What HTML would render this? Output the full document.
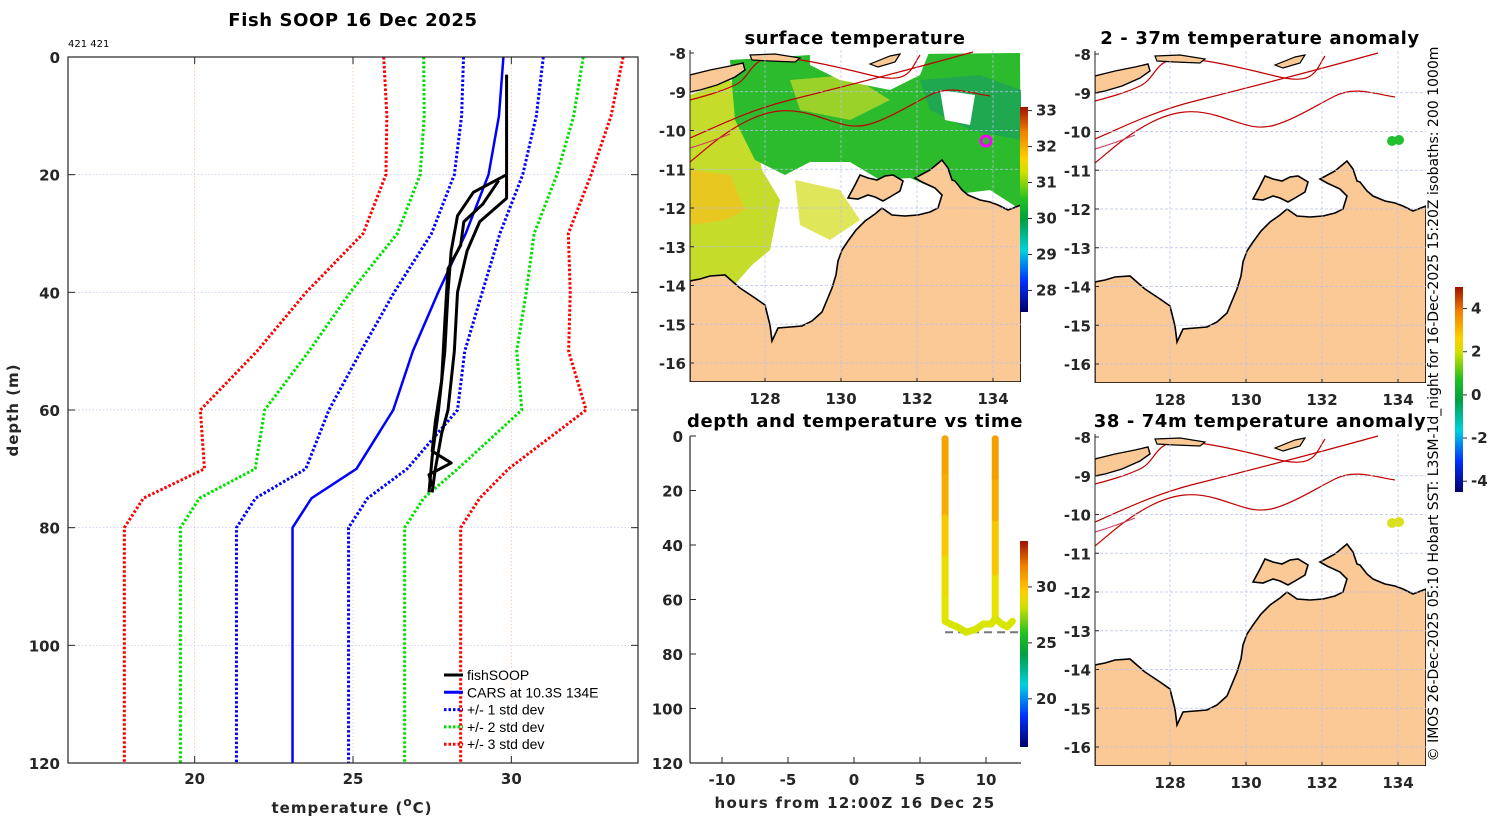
<!DOCTYPE html>
<html><head><meta charset="utf-8">
<style>
body{margin:0;background:#fff;}
svg{display:block;font-family:"DejaVu Sans","Liberation Sans",sans-serif;}
.tk{font-size:15px;font-weight:bold;fill:#262626;}
.ttl{font-size:18px;font-weight:bold;fill:#000;letter-spacing:0.6px;}
</style></head>
<body>
<svg id="fig" width="1500" height="820" viewBox="0 0 1500 820" xmlns="http://www.w3.org/2000/svg">
<defs>
 <g id="landshape">
  <path d="M0,231 L10,229 L20,226 L35,225 L50,238 L65,248 L75,255 L80,275 L82,291 L88,278 L100,277 L112,276 L122,271 L132,262 L142,238 L146,225 L148,211 L152,200 L158,191 L166,180 L175,171 L185,164 L192,158 L202,165 L215,166 L228,165 L240,162 L248,158 L252,145 L245,138 L232,132 L225,128 L240,120 L252,110 L258,118 L262,130 L265,131 L272,140 L278,145 L290,150 L300,152 L308,155 L318,160 L331,155 L331,332 L0,332 Z" fill="#fac995" stroke="#000" stroke-width="1.6"/>
  <path d="M158,148 L165,135 L170,125 L178,128 L187,130 L195,126 L203,125 L213,131 L210,141 L200,147 L193,151 L185,147 L178,145 L168,149 Z" fill="#fac995" stroke="#000" stroke-width="1.6"/>
  <path d="M0,25 L20,20 L40,16 L53,13 L55,20 L45,27 L27,35 L10,40 L0,42 Z" fill="#fac995" stroke="#000" stroke-width="1.4"/>
  <path d="M60,5 L85,4 L110,8 L105,12 L80,11 L62,10 Z" fill="#fac995" stroke="#000" stroke-width="1.2"/>
  <path d="M180,14 L200,6 L210,4 L205,12 L188,17 Z" fill="#fac995" stroke="#000" stroke-width="1.2"/>
 </g>
 <g id="isobaths" fill="none" stroke="#c00000" stroke-width="1.2">
  <path d="M0,88 C30,75 60,60 100,50 S200,25 283,2"/>
  <path d="M0,112 C15,100 30,85 55,72 S100,58 123,65 S160,80 180,74 S220,55 240,45 S280,43 300,46"/>
  <path d="M0,50 C15,46 30,42 45,35 S60,10 80,8 S140,15 180,25 S220,20 230,5"/>
  <path d="M0,98 C20,92 30,88 40,84" stroke="#d04060"/>
 </g>
 <g id="mapgrid" stroke="#b8c0ec" stroke-width="0.7" stroke-dasharray="3,2">
  <line x1="75" y1="0" x2="75" y2="332"/><line x1="151" y1="0" x2="151" y2="332"/><line x1="227" y1="0" x2="227" y2="332"/><line x1="303" y1="0" x2="303" y2="332"/>
  <line x1="0" y1="41.75" x2="331" y2="41.75"/><line x1="0" y1="80.5" x2="331" y2="80.5"/><line x1="0" y1="119.25" x2="331" y2="119.25"/><line x1="0" y1="158" x2="331" y2="158"/><line x1="0" y1="196.75" x2="331" y2="196.75"/><line x1="0" y1="235.5" x2="331" y2="235.5"/><line x1="0" y1="274.25" x2="331" y2="274.25"/><line x1="0" y1="313" x2="331" y2="313"/>
 </g>
 <linearGradient id="cmapV" x1="0" y1="1" x2="0" y2="0">
  <stop offset="0" stop-color="#00006a"/><stop offset="0.15" stop-color="#0030ff"/>
  <stop offset="0.3" stop-color="#00d0e0"/><stop offset="0.45" stop-color="#00a040"/>
  <stop offset="0.55" stop-color="#20c020"/><stop offset="0.68" stop-color="#d0e000"/>
  <stop offset="0.75" stop-color="#ffd000"/><stop offset="0.88" stop-color="#f08000"/>
  <stop offset="1" stop-color="#a01000"/>
 </linearGradient>
</defs>

<!-- ============ LEFT PROFILE PANEL ============ -->
<text class="ttl" x="353" y="26" text-anchor="middle">Fish SOOP 16 Dec 2025</text>
<text x="68" y="47" font-size="10" fill="#000">421 421</text>
<g id="profGrid"></g>
<g id="profSeries"></g>
<rect x="68" y="57" width="570" height="706" fill="none" stroke="#262626" stroke-width="1.2"/>
<g id="profTicks"></g>
<text class="tk" x="352" y="813" text-anchor="middle" font-size="18" letter-spacing="1">temperature (<tspan font-size="12" dy="-7">o</tspan><tspan dy="7">C)</tspan></text>
<text class="tk" x="0" y="0" font-size="18" letter-spacing="1" text-anchor="middle" transform="translate(18,410) rotate(-90)">depth (m)</text>
<g id="legend" font-family="Liberation Sans, sans-serif" font-size="14" fill="#000"></g>

<!-- ============ SURFACE TEMPERATURE MAP ============ -->
<text class="ttl" x="855" y="44" text-anchor="middle">surface temperature</text>
<g transform="translate(690,50)">
 <clipPath id="mc"><rect x="0" y="0" width="331" height="332"/></clipPath>
 <g clip-path="url(#mc)">
  <rect width="331" height="332" fill="#fff"/>
  <path d="M0,45 L40,30 L60,60 L72,120 L90,150 L80,200 L62,215 L40,240 L0,245 Z" fill="#c6dc2a"/>
  <path d="M0,120 L40,125 L55,160 L35,170 L0,175 Z" fill="#e8c820"/>
  <path d="M40,10 L120,5 L330,3 L331,160 L300,140 L260,145 L220,128 L190,130 L160,112 L120,112 L95,125 L65,110 L45,70 Z" fill="#2cbb2c"/>
  <path d="M100,30 L160,25 L200,50 L160,70 L110,60 Z" fill="#9ad22a"/>
  <path d="M230,30 L290,25 L331,40 L331,90 L280,80 L240,60 Z" fill="#20a850"/>
  <path d="M120,0 L240,0 L230,25 L200,40 L150,30 L120,15 Z" fill="#fff"/>
  <path d="M250,40 L285,45 L280,75 L255,70 Z" fill="#fff"/>
  <path d="M105,130 L150,140 L170,170 L140,190 L110,175 Z" fill="#d8e030" opacity="0.8"/>
  <use href="#isobaths"/>
  <use href="#landshape"/>
  <use href="#mapgrid"/>
  <circle cx="296" cy="91" r="5" fill="none" stroke="#ff00ff" stroke-width="3"/>
 </g>
</g>
<g id="map1ticks"></g>
<rect x="1020" y="107" width="8" height="205" fill="url(#cmapV)"/>
<g id="cb1"></g>

<!-- ============ DEPTH/TEMP VS TIME ============ -->
<text class="ttl" x="855" y="427" text-anchor="middle">depth and temperature vs time</text>
<g id="tsPlot"></g>
<rect x="1020" y="541" width="8" height="206" fill="url(#cmapV)"/>
<g id="cb2"></g>
<text class="tk" x="855" y="808" text-anchor="middle" font-size="18" letter-spacing="1.3">hours from 12:00Z 16 Dec 25</text>

<!-- ============ ANOMALY MAPS ============ -->
<text class="ttl" x="1260" y="44" text-anchor="middle">2 - 37m temperature anomaly</text>
<g transform="translate(1095,51)">
 <g clip-path="url(#mc)">
  <rect width="331" height="332" fill="#fff"/>
  <use href="#isobaths"/><use href="#landshape"/><use href="#mapgrid"/>
 </g>
 <circle cx="297" cy="90" r="5" fill="#20c030"/><circle cx="304" cy="89" r="5" fill="#20c030"/>
</g>
<text class="ttl" x="1260" y="427" text-anchor="middle">38 - 74m temperature anomaly</text>
<g transform="translate(1095,434)">
 <g clip-path="url(#mc)">
  <rect width="331" height="332" fill="#fff"/>
  <use href="#isobaths"/><use href="#landshape"/><use href="#mapgrid"/>
 </g>
 <circle cx="297" cy="89" r="5" fill="#d8e020"/><circle cx="304" cy="88" r="5" fill="#d8e020"/>
</g>
<g id="map2ticks"></g>
<rect x="1455" y="287" width="8" height="205" fill="url(#cmapV)"/>
<g id="cb3"></g>
<text x="0" y="0" font-size="14" fill="#000" font-family="DejaVu Sans, sans-serif" text-anchor="middle" transform="translate(1438,404) rotate(-90)">© IMOS 26-Dec-2025 05:10 Hobart SST: L3SM-1d_night for 16-Dec-2025 15:20Z isobaths: 200  1000m</text>
</svg>

<script>
// ---- profile data ----
const depths = [0,10,20,30,40,50,60,70,75,80,120];
const carsMean = [29.75,29.61,29.28,28.56,27.69,26.89,26.27,25.11,23.69,23.09,23.09];
const carsStd = [1.26,1.18,1.08,1.08,1.39,1.64,2.03,1.6,1.77,1.77,1.77];
const fishDepth1 = [3,20,24,28,33,40,50,60,64,70,74];
const fishTemp1 = [29.85,29.85,29.85,29.0,28.6,28.3,28.2,28.0,27.8,27.6,27.5];
const fishDepth2 = [20,23,27,33,40,50,60,68,74];
const fishTemp2 = [29.85,28.8,28.3,28.1,28.0,27.9,27.7,27.5,27.4];
const fishDepth3 = [21,25,28,32,36,45,55,62,67,69,71,73];
const fishTemp3 = [29.6,29.1,28.5,28.4,28.0,27.9,27.8,27.6,27.5,28.1,27.4,27.5];
const tempTicks = [20,25,30];
const depthTicks = [0,20,40,60,80,100,120];

// ---- time panel data ----
const hours = [6.9,6.9,6.9,6.9,6.9,6.9,7.3,7.8,8.5,9.2,9.8,10.4,10.7,10.7,10.7,10.7,10.7,11.2,11.6,12.0];
const castDepth = [1,15,30,45,60,68,69,70,72,71,69,69,67,50,30,15,1,69,70,68];
const castTemp = [29.8,29.7,29.0,28.0,27.5,27.2,27.0,27.0,26.8,27.0,27.0,27.0,27.2,28.0,29.0,29.8,29.9,27.0,27.0,27.1];
const hourTicks = [-10,-5,0,5,10];
const timeDepthTicks = [0,20,40,60,80,100,120];
const bottomDepth = 72;

// ---- map ticks ----
const latTicks = [-8,-9,-10,-11,-12,-13,-14,-15,-16];
const lonTicks = [128,130,132,134];
const sstTicks = [28,29,30,31,32,33];
const tTicks = [20,25,30];
const anomTicks = [-4,-2,0,2,4];

const NS='http://www.w3.org/2000/svg';
function mk(tag, attrs, parent){const e=document.createElementNS(NS,tag);for(const k in attrs)e.setAttribute(k,attrs[k]);parent.appendChild(e);return e;}
function txt(parent,x,y,s,anchor,cls){const t=mk('text',{x:x,y:y,'text-anchor':anchor,class:cls||'tk'},parent);t.textContent=s;return t;}

// profile scales
const X = t => 68 + (t-16)*570/18;
const Y = d => 57 + d*706/120;
const pg=document.getElementById('profGrid'), ps=document.getElementById('profSeries'), pt=document.getElementById('profTicks');
tempTicks.forEach(t=>{
  const l=mk('line',{x1:X(t),x2:X(t),y1:57,y2:763,stroke:'#f0c0a0','stroke-width':0.7,'stroke-dasharray':'1.5,2'},pg);
  
  
  mk('line',{x1:X(t),x2:X(t),y1:763,y2:756,stroke:'#262626'},pt);
  mk('line',{x1:X(t),x2:X(t),y1:57,y2:64,stroke:'#262626'},pt);
  const tx=txt(pt,X(t),784,String(t),'middle');
  
  
});
depthTicks.forEach(d=>{
  const l=mk('line',{x1:68,x2:638,y1:Y(d),y2:Y(d),stroke:'#b8c0f0','stroke-width':0.7,'stroke-dasharray':'1.5,2'},pg);
  
  
  mk('line',{x1:68,x2:75,y1:Y(d),y2:Y(d),stroke:'#262626'},pt);
  mk('line',{x1:631,x2:638,y1:Y(d),y2:Y(d),stroke:'#262626'},pt);
  const tx=txt(pt,60,Y(d)+6,String(d),'end');
  
  
});
function poly(ts,ds,color,w,dash,name){
  const p=mk('polyline',{points:ts.map((t,i)=>X(t)+','+Y(ds[i])).join(' '),fill:'none',stroke:color,'stroke-width':w,'stroke-linejoin':'round'},ps);
  if(dash)p.setAttribute('stroke-dasharray',dash);
  
  
}
const sdColors=['#0000ff','#00e000','#ff0000'];
[1,2,3].forEach(k=>{
  poly(carsMean.map((m,i)=>m-k*carsStd[i]),depths,sdColors[k-1],3,'2.5,2','std-dev-lower-'+k);
  poly(carsMean.map((m,i)=>m+k*carsStd[i]),depths,sdColors[k-1],3,'2.5,2','std-dev-upper-'+k);
});
poly(carsMean,depths,'#0000ff',2.5,null,'cars-mean-line');
poly(fishTemp1,fishDepth1,'#000',3,null,'fishsoop-profile-1');
poly(fishTemp2,fishDepth2,'#000',3,null,'fishsoop-profile-2');
poly(fishTemp3,fishDepth3,'#000',3,null,'fishsoop-profile-3');

// legend
const lg=document.getElementById('legend');
const legItems=[['fishSOOP','#000',null],['CARS at 10.3S 134E','#0000ff',null],['+/- 1 std dev','#0000ff','2.5,2'],['+/- 2 std dev','#00e000','2.5,2'],['+/- 3 std dev','#ff0000','2.5,2']];
legItems.forEach((it,i)=>{
  const y=675+i*17.3;
  const g=mk('g',{},lg);
  
  
  const l=mk('line',{x1:444,x2:463,y1:y,y2:y,stroke:it[1],'stroke-width':3},g);
  if(it[2])l.setAttribute('stroke-dasharray',it[2]);
  const t=mk('text',{x:467,y:y+5},g);t.textContent=it[0];
});

// time-panel colour mapping
const tStops=[[26.5,[200,230,0]],[27.5,[232,228,0]],[28.5,[245,200,0]],[29.5,[245,168,0]],[31,[240,140,0]]];
function tcol(v){
  if(v<=tStops[0][0])return 'rgb('+tStops[0][1].join(',')+')';
  for(let i=1;i<tStops.length;i++){if(v<=tStops[i][0]){const a=tStops[i-1],b=tStops[i];const r=(v-a[0])/(b[0]-a[0]);return 'rgb('+a[1].map((c,j)=>Math.round(c+(b[1][j]-c)*r)).join(',')+')';}}
  return 'rgb(240,140,0)';
}

// time panel
const TX = h => 722 + (h+10)*13.2;
const TY = d => 436 + d*327/120;
const tp=document.getElementById('tsPlot');
mk('line',{x1:690,x2:690,y1:436,y2:763,stroke:'#262626','stroke-width':1.2},tp);
mk('line',{x1:690,x2:1021,y1:763,y2:763,stroke:'#262626','stroke-width':1.2},tp);
hourTicks.forEach(h=>{
  mk('line',{x1:TX(h),x2:TX(h),y1:763,y2:757,stroke:'#262626'},tp);
  const t=txt(tp,TX(h),785,String(h),'middle');
  
  
});
timeDepthTicks.forEach(d=>{
  mk('line',{x1:690,x2:696,y1:TY(d),y2:TY(d),stroke:'#262626'},tp);
  const t=txt(tp,683,TY(d)+6,String(d),'end');
  
  
});
const bl=mk('line',{x1:TX(6.9),x2:1021,y1:TY(bottomDepth),y2:TY(bottomDepth),stroke:'#777','stroke-width':2,'stroke-dasharray':'8,5'},tp);


for(let i=0;i<hours.length-1;i++){
  if(i===16) continue;
  const s=mk('line',{x1:TX(hours[i]),y1:TY(castDepth[i]),x2:TX(hours[i+1]),y2:TY(castDepth[i+1]),stroke:tcol((castTemp[i]+castTemp[i+1])/2),'stroke-width':7,'stroke-linecap':'round'},tp);
  
  
}
mk('line',{x1:TX(10.7),y1:TY(67),x2:TX(11.2),y2:TY(69),stroke:tcol(27),'stroke-width':7,'stroke-linecap':'round'},tp);

// colorbar ticks
function cbTicks(id,vals,x,yTop,yBot,vmin,vmax){
  const g=document.getElementById(id);
  vals.forEach(v=>{
    const y=yBot-(v-vmin)/(vmax-vmin)*(yBot-yTop);
    mk('line',{x1:x+8,x2:x+12,y1:y,y2:y,stroke:'#262626'},g);
    const t=txt(g,x+16,y+5,String(v),'start');
    t.setAttribute('font-size','14');
    
    
  });
}
cbTicks('cb1',sstTicks,1020,107,312,27.4,33.1);
cbTicks('cb2',tTicks,1020,541,747,15.7,34.1);
cbTicks('cb3',anomTicks,1455,287,492,-4.5,5.0);

// map ticks
function mapTicks(id,x0,y0s,lonLabels){
  const g=document.getElementById(id);
  y0s.forEach((y0,mi)=>{
    latTicks.forEach(la=>{
      const y=y0+3+(-8-la)*38.75;
      mk('line',{x1:x0,x2:x0+4,y1:y,y2:y,stroke:'#262626'},g);
      const t=txt(g,x0-4,y+6,String(la),'end');
      
      
    });
    mk('line',{x1:x0,x2:x0,y1:y0,y2:y0+332,stroke:'#262626','stroke-width':1},g);
    if(lonLabels[mi]){
      lonTicks.forEach(lo=>{
        const x=x0+75+(lo-128)*38;
        mk('line',{x1:x,x2:x,y1:y0+332,y2:y0+328,stroke:'#262626'},g);
        const t=txt(g,x,y0+354,String(lo),'middle');
        
        
      });
    }
  });
}
mapTicks('map1ticks',690,[50],[true]);
mapTicks('map2ticks',1095,[51,434],[true,true]);
</script>
</body></html>
